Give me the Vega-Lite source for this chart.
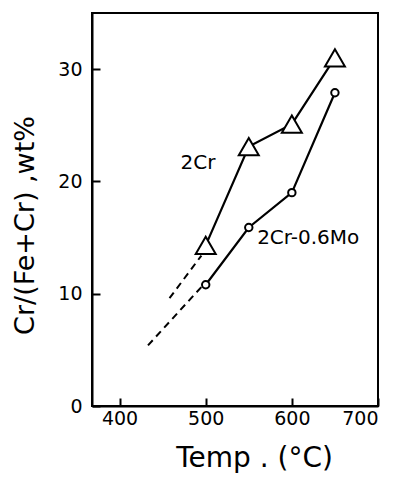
{
  "$schema": "https://vega.github.io/schema/vega-lite/v6.json",
  "width": 286,
  "height": 393,
  "autosize": {"type": "none"},
  "padding": {"left": 92, "top": 13, "right": 30, "bottom": 71},
  "background": "white",
  "config": {
    "view": {"stroke": "black", "strokeWidth": 2},
    "font": "DejaVu Sans",
    "axis": {
      "grid": false,
      "domainColor": "black",
      "domainWidth": 2,
      "tickColor": "black",
      "tickWidth": 2,
      "tickSize": -8,
      "labelColor": "black",
      "labelFontSize": 19,
      "labelFont": "DejaVu Sans",
      "titleColor": "black",
      "titleFont": "DejaVu Sans",
      "titleFontWeight": "normal"
    }
  },
  "datasets": {
    "main": [
      {"series": "2Cr", "temp": 500, "value": 14.3},
      {"series": "2Cr", "temp": 550, "value": 23.1},
      {"series": "2Cr", "temp": 600, "value": 25.1},
      {"series": "2Cr", "temp": 650, "value": 31.0},
      {"series": "2Cr-0.6Mo", "temp": 500, "value": 10.8},
      {"series": "2Cr-0.6Mo", "temp": 550, "value": 15.9},
      {"series": "2Cr-0.6Mo", "temp": 600, "value": 19.0},
      {"series": "2Cr-0.6Mo", "temp": 650, "value": 27.9}
    ],
    "ext": [
      {"series": "2Cr", "temp": 458, "value": 9.6},
      {"series": "2Cr", "temp": 495, "value": 13.4},
      {"series": "2Cr-0.6Mo", "temp": 433, "value": 5.4},
      {"series": "2Cr-0.6Mo", "temp": 495, "value": 10.6}
    ],
    "labels": [
      {"label": "2Cr", "temp": 491, "value": 21.6},
      {"label": "2Cr-0.6Mo", "temp": 619, "value": 15.0}
    ]
  },
  "layer": [
    {
      "data": {"name": "ext"},
      "mark": {"type": "line", "color": "black", "strokeWidth": 2, "strokeDash": [7, 5]},
      "encoding": {
        "x": {"field": "temp", "type": "quantitative", "scale": {"domain": [368, 700], "nice": false, "zero": false},
              "axis": {"values": [400, 500, 600, 700], "title": "Temp . (°C)", "titleFontSize": 28, "titlePadding": 16, "labelPadding": 11, "titleX": 162}},
        "y": {"field": "value", "type": "quantitative", "scale": {"domain": [0, 35], "nice": false},
              "axis": {"values": [0, 10, 20, 30], "title": "Cr/(Fe+Cr) ,wt%", "titleFontSize": 27, "titlePadding": 18, "labelPadding": 18, "titleY": 212}},
        "detail": {"field": "series"}
      }
    },
    {
      "data": {"name": "main"},
      "mark": {"type": "line", "color": "black", "strokeWidth": 2.2},
      "encoding": {
        "x": {"field": "temp", "type": "quantitative"},
        "y": {"field": "value", "type": "quantitative"},
        "detail": {"field": "series"}
      }
    },
    {
      "data": {"name": "main"},
      "mark": {"type": "point", "filled": true, "fill": "white", "stroke": "black", "strokeWidth": 2, "opacity": 1},
      "encoding": {
        "x": {"field": "temp", "type": "quantitative"},
        "y": {"field": "value", "type": "quantitative"},
        "shape": {"field": "series", "type": "nominal", "scale": {"domain": ["2Cr", "2Cr-0.6Mo"], "range": ["triangle-up", "circle"]}, "legend": null},
        "size": {"field": "series", "type": "nominal", "scale": {"domain": ["2Cr", "2Cr-0.6Mo"], "range": [400, 55]}, "legend": null}
      }
    },
    {
      "data": {"name": "labels"},
      "mark": {"type": "text", "fontSize": 20, "color": "black", "align": "center", "baseline": "middle"},
      "encoding": {
        "x": {"field": "temp", "type": "quantitative"},
        "y": {"field": "value", "type": "quantitative"},
        "text": {"field": "label"}
      }
    }
  ]
}
